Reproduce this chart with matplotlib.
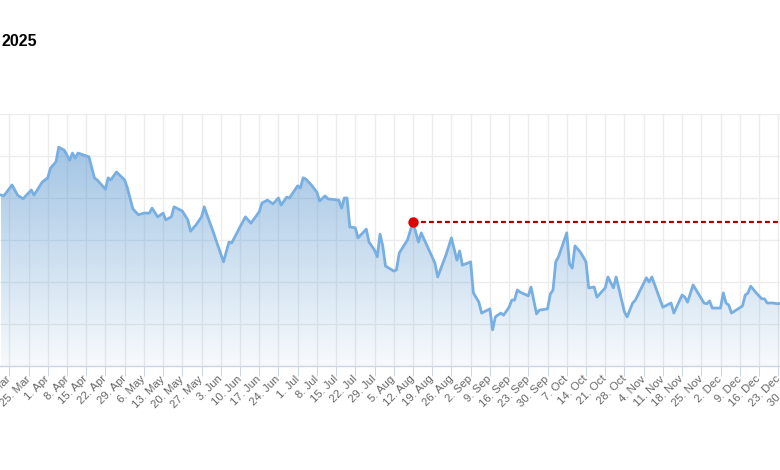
import matplotlib
matplotlib.use("Agg")
import matplotlib.pyplot as plt
import matplotlib.dates as mdates
import matplotlib.ticker as mticker
from matplotlib.patches import Polygon
import numpy as np
from datetime import datetime

# ---------------- data ----------------
title_text = "2025"

dates = [
    "2025-03-15", "2025-03-16", "2025-03-19", "2025-03-21", "2025-03-23", "2025-03-26",
    "2025-03-27", "2025-03-30", "2025-04-01", "2025-04-02", "2025-04-04", "2025-04-05",
    "2025-04-07", "2025-04-09", "2025-04-10", "2025-04-11", "2025-04-12", "2025-04-16",
    "2025-04-18", "2025-04-19", "2025-04-22", "2025-04-23", "2025-04-24", "2025-04-26",
    "2025-04-29", "2025-04-30", "2025-05-02", "2025-05-04", "2025-05-06", "2025-05-08",
    "2025-05-09", "2025-05-11", "2025-05-13", "2025-05-14", "2025-05-16", "2025-05-17",
    "2025-05-20", "2025-05-22", "2025-05-23", "2025-05-25", "2025-05-27", "2025-05-28",
    "2025-05-29", "2025-05-31", "2025-06-04", "2025-06-06", "2025-06-07", "2025-06-10",
    "2025-06-12", "2025-06-14", "2025-06-17", "2025-06-18", "2025-06-20", "2025-06-22",
    "2025-06-24", "2025-06-25", "2025-06-27", "2025-06-28", "2025-07-01", "2025-07-02",
    "2025-07-03", "2025-07-04", "2025-07-06", "2025-07-08", "2025-07-09", "2025-07-11",
    "2025-07-12", "2025-07-16", "2025-07-17", "2025-07-18", "2025-07-19", "2025-07-20",
    "2025-07-22", "2025-07-23", "2025-07-26", "2025-07-27", "2025-07-29", "2025-07-30",
    "2025-07-31", "2025-08-01", "2025-08-02", "2025-08-05", "2025-08-06", "2025-08-07",
    "2025-08-10", "2025-08-12", "2025-08-14", "2025-08-15", "2025-08-17", "2025-08-20",
    "2025-08-21", "2025-08-24", "2025-08-26", "2025-08-28", "2025-08-29", "2025-08-30",
    "2025-09-02", "2025-09-03", "2025-09-05", "2025-09-06", "2025-09-09", "2025-09-10",
    "2025-09-11", "2025-09-13", "2025-09-14", "2025-09-16", "2025-09-17", "2025-09-18",
    "2025-09-19", "2025-09-20", "2025-09-23", "2025-09-24", "2025-09-26", "2025-09-27",
    "2025-09-30", "2025-10-01", "2025-10-02", "2025-10-03", "2025-10-04", "2025-10-07",
    "2025-10-08", "2025-10-09", "2025-10-10", "2025-10-12", "2025-10-14", "2025-10-15",
    "2025-10-17", "2025-10-18", "2025-10-21", "2025-10-22", "2025-10-24", "2025-10-25",
    "2025-10-28", "2025-10-29", "2025-10-31", "2025-11-01", "2025-11-05", "2025-11-06",
    "2025-11-07", "2025-11-09", "2025-11-11", "2025-11-14", "2025-11-15", "2025-11-18",
    "2025-11-19", "2025-11-20", "2025-11-22", "2025-11-26", "2025-11-27", "2025-11-28",
    "2025-11-29", "2025-12-02", "2025-12-03", "2025-12-04", "2025-12-05", "2025-12-06",
    "2025-12-10", "2025-12-11", "2025-12-12", "2025-12-13", "2025-12-15", "2025-12-17",
    "2025-12-18", "2025-12-19", "2025-12-21", "2025-12-23", "2025-12-24",
]

values = [
    80.7, 80.5, 83.1, 80.7, 79.8, 81.9,
    80.7, 83.8, 84.8, 87.1, 88.6, 92.1,
    91.4, 89.0, 90.7, 89.5, 90.7, 89.8,
    84.8, 84.3, 82.1, 84.8, 84.3, 86.2,
    84.3, 82.4, 77.4, 76.0, 76.4, 76.4,
    77.6, 75.5, 76.4, 74.8, 75.5, 77.9,
    76.9, 74.8, 72.1, 73.6, 75.5, 77.9,
    76.0, 72.4, 64.8, 69.5, 69.3, 73.1,
    75.5, 74.0, 76.7, 78.8, 79.5, 78.6,
    80.0, 78.3, 80.2, 80.0, 82.9, 82.4,
    84.8, 84.5, 83.1, 81.4, 79.3, 80.5,
    79.8, 79.5, 77.6, 80.0, 80.0, 73.1,
    72.9, 70.5, 72.6, 69.5, 67.6, 66.0,
    71.4, 68.6, 63.8, 62.6, 62.9, 66.9,
    70.0, 74.3, 69.5, 71.7, 68.8, 64.5,
    61.2, 66.4, 70.5, 65.2, 67.4, 64.0,
    64.8, 57.4, 55.2, 52.6, 53.6, 48.6,
    51.7, 52.6, 52.1, 54.0, 55.7, 55.7,
    58.1, 57.6, 56.7, 58.8, 52.4, 53.3,
    53.6, 57.1, 58.1, 64.8, 66.0, 71.7,
    64.3, 63.3, 68.6, 67.1, 64.8, 58.6,
    58.8, 56.4, 58.6, 61.2, 58.6, 61.2,
    52.9, 51.7, 55.0, 55.7, 61.0, 60.0,
    61.2, 57.6, 54.0, 55.0, 52.6, 56.9,
    56.4, 55.2, 59.3, 55.0, 54.8, 55.5,
    53.8, 53.8, 57.4, 55.0, 54.5, 52.6,
    54.3, 56.9, 57.4, 59.0, 57.4, 56.0,
    56.0, 55.0, 55.0, 54.8, 55.0,
]

marker_date = "2025-08-12"
marker_value = 74.3

y_min, y_max, y_step = 40, 100, 10

# ---------------- style ----------------
plt.rcParams["font.family"] = ["Liberation Sans", "DejaVu Sans"]

W, H = 780, 470
fig = plt.figure(figsize=(W / 100, H / 100), dpi=100)
fig.patch.set_facecolor("white")

px_left, px_right = -40, 820      # plot area extends past the picture edges
px_top, px_bottom = 114, 366
ax = fig.add_axes([px_left / W, (H - px_bottom) / H,
                   (px_right - px_left) / W, (px_bottom - px_top) / H])

x = mdates.datestr2num(dates)
y = np.array(values)

ref = mdates.date2num(datetime(2025, 3, 18))
ref_px = 9.3
px_per_day = 2.746
ax.set_xlim(ref + (px_left - ref_px) / px_per_day, ref + (px_right - ref_px) / px_per_day)
ax.set_ylim(y_min, y_max)
x0, x1 = ax.get_xlim()

# gradient area fill
fill_rgb = np.array([95, 155, 208]) / 255.0
n = 256
alpha = np.linspace(0.66, 0.05, n)
img = np.zeros((n, 2, 4))
img[..., :3] = fill_rgb
img[..., 3] = alpha[:, None]
im = ax.imshow(img, extent=[x0, x1, y_min, y_max], aspect="auto",
               origin="upper", zorder=1, interpolation="bilinear")
verts = [(x[0], y_min)] + list(zip(x, y)) + [(x[-1], y_min)]
clip = Polygon(verts, closed=True, facecolor="none", edgecolor="none")
ax.add_patch(clip)
im.set_clip_path(clip)

ax.plot(x, y, color="#78afe3", lw=2, zorder=3, solid_joinstyle="round")

# reference marker + dashed line
mx = mdates.datestr2num(marker_date)
ax.hlines(marker_value, mx, x1, colors="#b00000", linestyles=(0, (2.2, 1.4)), lw=1.6, zorder=4)
ax.plot([mx], [marker_value], "o", color="#e00000", markersize=7.5, zorder=5, markeredgewidth=0)

# axes styling
ax.set_yticks(np.arange(y_min, y_max + 0.1, y_step))
ax.tick_params(axis="y", length=0, labelleft=False)
ax.xaxis.set_major_locator(mdates.WeekdayLocator(byweekday=mdates.TU))


def fmt(v, pos):
    d = mdates.num2date(v)
    return f"{d.day}. {d.strftime('%b')}"


ax.xaxis.set_major_formatter(mticker.FuncFormatter(fmt))
ax.grid(True, color="#ececec", lw=1)
ax.set_axisbelow(True)
for s in ["top", "left", "right"]:
    ax.spines[s].set_visible(False)
ax.spines["bottom"].set_color("#ccd6eb")
ax.spines["bottom"].set_linewidth(1)
ax.tick_params(axis="x", length=7.2, width=0.75, color="#ccd6eb",
               labelcolor="#666666", labelsize=8.2, pad=1)
plt.setp(ax.get_xticklabels(), rotation=45, ha="right", va="center", rotation_mode="anchor")

fig.text(1 / W, 1 - 41 / H, title_text, fontsize=11.5, fontweight="bold",
         ha="left", va="center", color="#000000")

fig.savefig("out.png", dpi=100)
